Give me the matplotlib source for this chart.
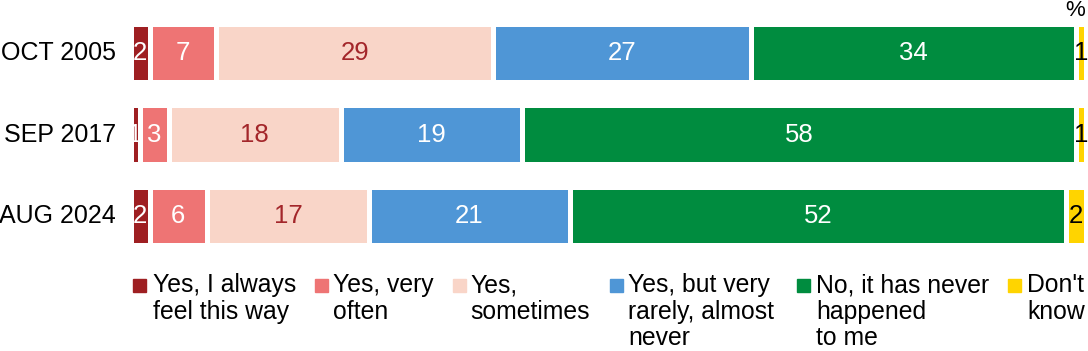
import matplotlib
matplotlib.use("Agg")
import matplotlib.pyplot as plt
from matplotlib.patches import Rectangle

plt.rcParams['font.family'] = ['Liberation Sans', 'DejaVu Sans']

# ── Data ──────────────────────────────────────────────────────────────
periods = ['OCT 2005', 'SEP 2017', 'AUG 2024']
always    = [2, 1, 2]
very_often = [7, 3, 6]
sometimes = [29, 18, 17]
rarely    = [27, 19, 21]
never     = [34, 58, 52]
dont_know = [1, 1, 2]

series = [always, very_often, sometimes, rarely, never, dont_know]
labels = ['Yes, I always\nfeel this way', 'Yes, very\noften', 'Yes,\nsometimes',
          'Yes, but very\nrarely, almost\nnever', 'No, it has never\nhappened\nto me',
          "Don't\nknow"]
colors = ['#9E1F22', '#EE7474', '#F9D5C8', '#4F96D6', '#008C3F', '#FFD400']
txt_colors = ['white', 'white', '#A3262A', 'white', 'white', 'black']

W, H = 1088, 351
fig = plt.figure(figsize=(W / 100, H / 100), dpi=100)
ax = fig.add_axes([130.5 / W, 1 - 250 / H, 955 / W, 230 / H])
ax.set_xlim(0, 100)
ax.set_ylim(2.417, -0.405)
ax.axis('off')

ypos = list(range(len(periods)))
left = [0] * len(periods)
for vals, c, tc in zip(series, colors, txt_colors):
    ax.barh(ypos, vals, left=left, height=0.72, color=c,
            edgecolor='white', linewidth=3.6)
    for y, v, l in zip(ypos, vals, left):
        ax.text(l + v / 2, y, str(v), ha='center', va='center',
                fontsize=18.5, color=tc)
    left = [l + v for l, v in zip(left, vals)]

for y, p in zip(ypos, periods):
    ax.text(-1.5, y, p, ha='right', va='center', fontsize=18, color='black')

fig.text(1075 / W, 1 - 11 / H, '%', ha='center', va='center', fontsize=16)

# ── Legend (manual) ───────────────────────────────────────────────────
sq_x = [133, 315, 453, 610, 797, 1008]
tx_x = [153, 333, 470, 628, 816, 1027]
for sx, tx, c, lab in zip(sq_x, tx_x, colors, labels):
    fig.patches.append(Rectangle((sx / W, 1 - 292 / H), 13 / W, 13 / H,
                                 transform=fig.transFigure, color=c))
    fig.text(tx / W, 1 - 273 / H, lab, ha='left', va='top', fontsize=17.8,
             linespacing=1.14)

fig.savefig('out.png', dpi=100)
